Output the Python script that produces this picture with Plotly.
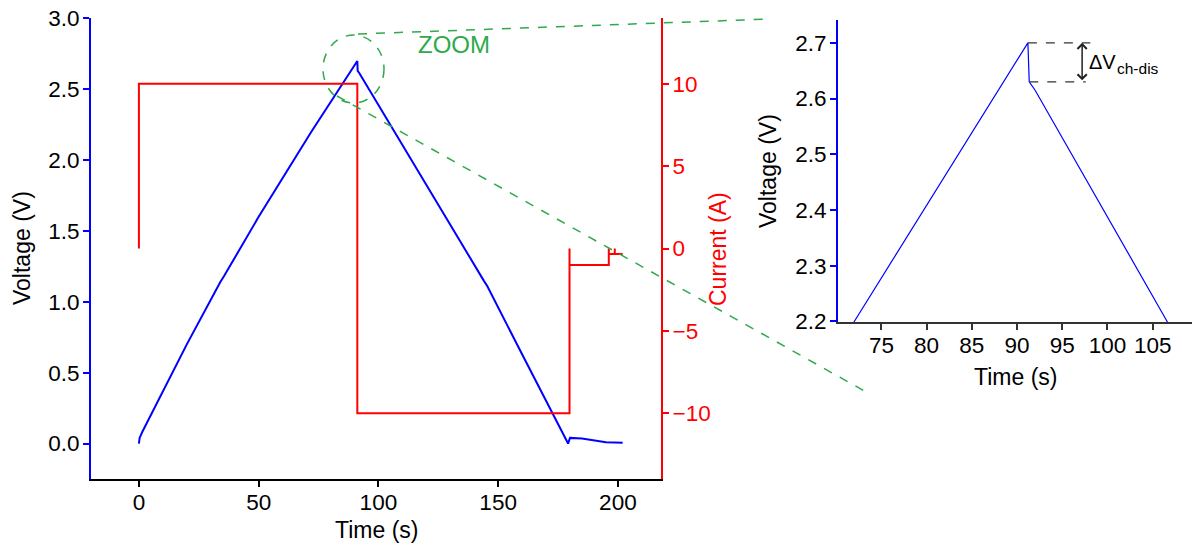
import plotly.graph_objects as go

# ---------------- data ----------------
time_s = [0, 0.3, 1.5, 8, 20, 34, 35.5, 50, 72, 91.2, 91.35, 92, 106.6, 125, 144, 145.5,
          160, 179.2, 180.0, 185, 195, 202]
voltage_v = [0.0, 0.04, 0.085, 0.30, 0.70, 1.14, 1.18, 1.60, 2.20, 2.70, 2.63, 2.615, 2.20,
             1.685, 1.15, 1.11, 0.63, 0.0, 0.04, 0.035, 0.01, 0.005]

current_t = [0, 0, 91.2, 91.2, 179.8, 179.8, 179.8, 196.2, 196.2, 196.2, 198.7, 198.7, 198.7, 202]
current_a = [0, 10, 10, -10, -10, 0, -1, -1, 0, -0.33, -0.33, 0, -0.33, -0.33]

main_x_ticks = [0, 50, 100, 150, 200]
main_v_ticks = [0.0, 0.5, 1.0, 1.5, 2.0, 2.5, 3.0]
main_i_ticks = [-10, -5, 0, 5, 10]
inset_x_ticks = [75, 80, 85, 90, 95, 100, 105]
inset_v_ticks = [2.2, 2.3, 2.4, 2.5, 2.6, 2.7]

# ---------------- layout helpers (pixel -> paper) ----------------
W, H = 1194, 549
OFF = 0  # page body margin is removed by the post script below


def px(x):
    return (x - OFF) / W


def py(y):
    return 1 - (y - OFF) / H


FONT = "Liberation Sans, Arial, sans-serif"
BLUE = "#0000ff"
RED = "#ff0000"
GREEN = "#2eaa4a"
TS = 22.5
TT = 23

fig = go.Figure()
fig.add_trace(go.Scatter(x=current_t, y=current_a, xaxis="x", yaxis="y2", mode="lines",
                         line=dict(color=RED, width=2), showlegend=False, hoverinfo="skip"))
fig.add_trace(go.Scatter(x=time_s, y=voltage_v, xaxis="x", yaxis="y", mode="lines",
                         line=dict(color=BLUE, width=2), showlegend=False, hoverinfo="skip"))
fig.add_trace(go.Scatter(x=time_s, y=voltage_v, xaxis="x2", yaxis="y3", mode="lines",
                         line=dict(color=BLUE, width=1.2), showlegend=False, hoverinfo="skip"))

axis_common = dict(showgrid=False, zeroline=False, showline=True, ticks="outside", ticklen=6,
                   automargin=False, ticklabeloverflow="allow",
                   tickfont=dict(family=FONT, size=TS, color="black"))

fig.update_layout(
    width=W, height=H, margin=dict(l=0, r=0, t=0, b=0),
    paper_bgcolor="white", plot_bgcolor="white",
    font=dict(family=FONT, size=TS, color="black"),
    xaxis=dict(axis_common, domain=[px(91), px(661)], range=[-20, 218], anchor="y",
               tickvals=main_x_ticks, linecolor="black", linewidth=1.5, tickcolor="black",
               tickwidth=1.5, ticklabelstandoff=-4),
    yaxis=dict(axis_common, domain=[py(479), py(18)], range=[-0.25, 3.003], anchor="x",
               tickvals=main_v_ticks, ticktext=[f"{v:.1f}" for v in main_v_ticks],
               linecolor=BLUE, linewidth=2, tickcolor=BLUE, tickwidth=2, ticklabelstandoff=-1),
    yaxis2=dict(axis_common, range=[-14, 14], overlaying="y", side="right", anchor="x",
                tickvals=main_i_ticks, linecolor=RED, linewidth=2, tickcolor=RED, tickwidth=2,
                tickfont=dict(family=FONT, size=TS, color=RED), ticklabelstandoff=-1),
    xaxis2=dict(axis_common, domain=[px(838), px(1192)], range=[70.2, 109.35], anchor="y3",
                tickvals=inset_x_ticks, linecolor="#333333", linewidth=2, tickcolor="#333333",
                tickwidth=1.5, ticklabelstandoff=-4),
    yaxis3=dict(axis_common, domain=[py(322), py(20)], range=[2.199, 2.741], anchor="x2",
                tickvals=inset_v_ticks, ticktext=[f"{v:.1f}" for v in inset_v_ticks],
                linecolor=BLUE, linewidth=2, tickcolor=BLUE, tickwidth=2, ticklabelstandoff=-1),
)

# ---------------- axis titles ----------------
titles = [
    dict(text="Voltage (V)", x=px(22), y=py(248), textangle=-90, color="black"),
    dict(text="Time (s)", x=px(376), y=py(530), textangle=0, color="black"),
    dict(text="Current (A)", x=px(718), y=py(249), textangle=-90, color=RED),
    dict(text="Voltage (V)", x=px(768), y=py(171), textangle=-90, color="black"),
    dict(text="Time (s)", x=px(1015), y=py(377), textangle=0, color="black"),
]
for t in titles:
    fig.add_annotation(text=t["text"], x=t["x"], y=t["y"], xref="paper", yref="paper",
                       showarrow=False, textangle=t["textangle"], xanchor="center",
                       yanchor="middle", font=dict(family=FONT, size=TT, color=t["color"]))

# ---------------- zoom decoration ----------------
fig.add_shape(type="circle", xref="paper", yref="paper", x0=px(323), x1=px(384),
              y0=py(103), y1=py(35), line=dict(color=GREEN, width=1.5, dash="dash"))
fig.add_shape(type="line", xref="paper", yref="paper", x0=px(358), y0=py(34),
              x1=px(770), y1=py(19), line=dict(color=GREEN, width=1.5, dash="dash"))
fig.add_shape(type="line", xref="paper", yref="paper", x0=px(337), y0=py(96),
              x1=px(868), y1=py(393), line=dict(color=GREEN, width=1.5, dash="dash"))
fig.add_annotation(text="ZOOM", x=px(454), y=py(45), xref="paper", yref="paper",
                   showarrow=False, xanchor="center", yanchor="middle",
                   font=dict(family=FONT, size=24, color=GREEN))

# ---------------- delta V annotation in inset ----------------
i_peak = voltage_v.index(max(voltage_v))
v_top = voltage_v[i_peak]
v_bot = voltage_v[i_peak + 1]
t_top = time_s[i_peak]
t_bot = time_s[i_peak + 1]
t_arrow = 97.2
fig.add_shape(type="line", xref="x2", yref="y3", x0=t_top, x1=98.1, y0=v_top, y1=v_top,
              line=dict(color="#333333", width=1.2, dash="dash"))
fig.add_shape(type="line", xref="x2", yref="y3", x0=t_bot, x1=97.6, y0=v_bot, y1=v_bot,
              line=dict(color="#333333", width=1.2, dash="dash"))
fig.add_annotation(x=t_arrow, y=v_top, ax=t_arrow, ay=v_bot, xref="x2", yref="y3",
                   axref="x2", ayref="y3", text="", showarrow=True, arrowhead=4,
                   startarrowhead=4, arrowside="end+start", arrowsize=1.2, startarrowsize=1.2,
                   arrowwidth=1.5, arrowcolor="#222222", standoff=0, startstandoff=0)
fig.add_annotation(text="ΔV", x=px(1087), y=py(62), xref="paper", yref="paper",
                   showarrow=False, xanchor="left", yanchor="middle",
                   font=dict(family=FONT, size=20, color="black"))
fig.add_annotation(text="ch-dis", x=px(1115), y=py(68), xref="paper", yref="paper",
                   showarrow=False, xanchor="left", yanchor="middle",
                   font=dict(family=FONT, size=15.5, color="black"))

fig.write_html("out.html", config={"displayModeBar": False},
               post_script="document.body.style.margin='0px';document.body.style.overflow='hidden';")
